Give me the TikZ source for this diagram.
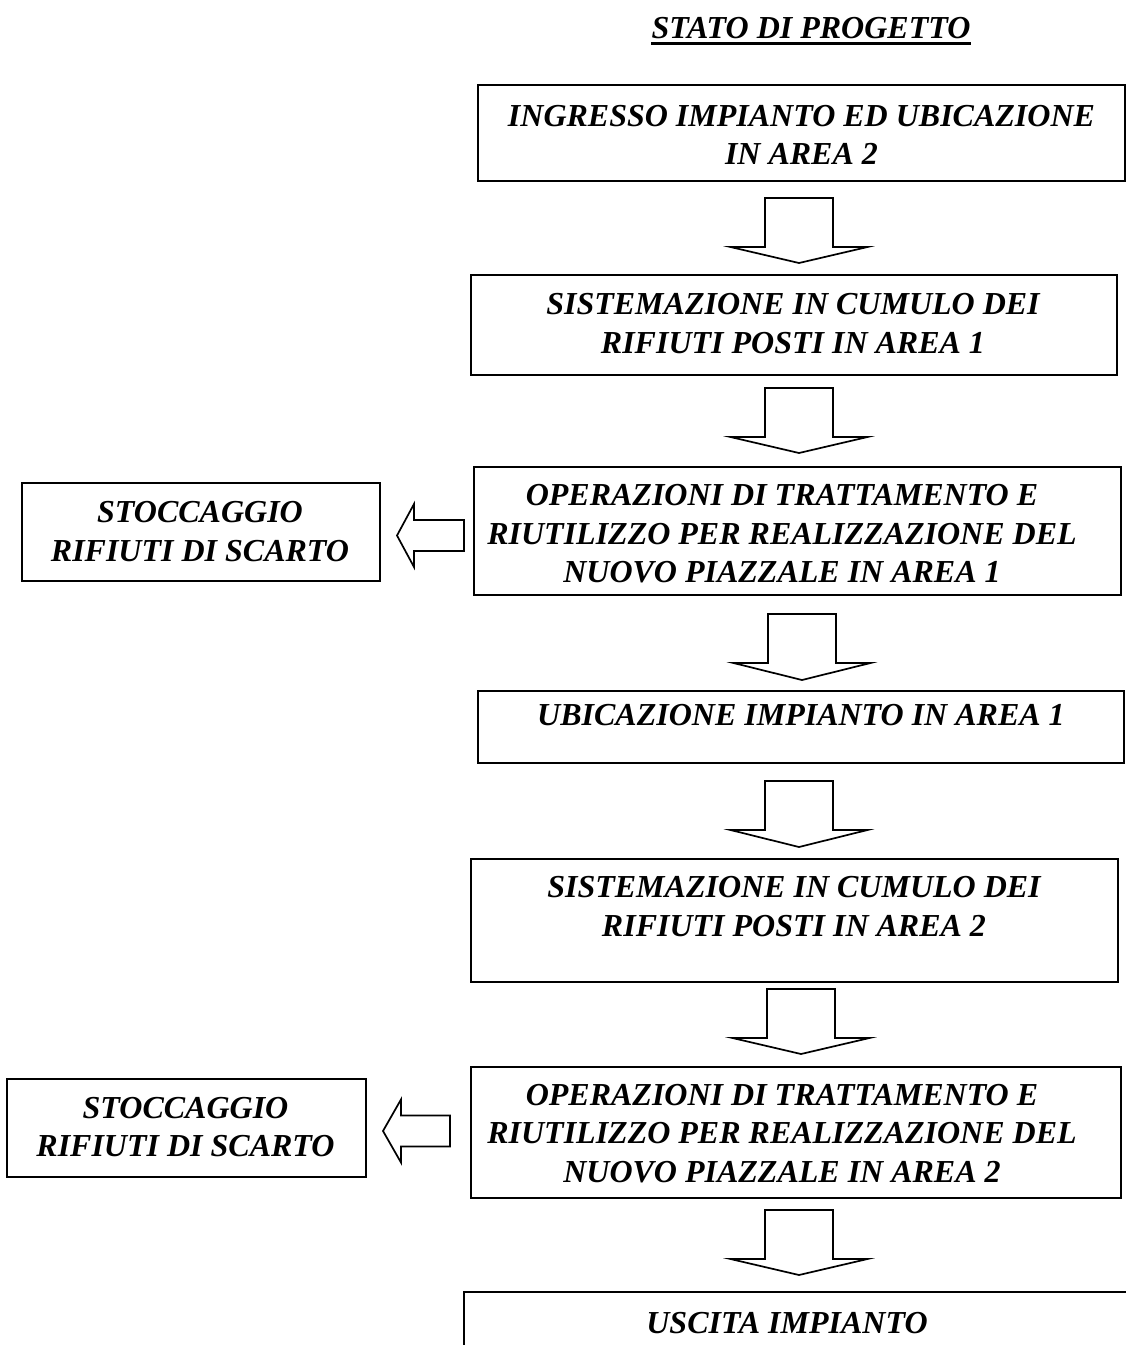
\documentclass[tikz,border=0pt]{standalone}
\usepackage{fontspec}
\setmainfont{Liberation Serif}
\newcommand\dnblock[4]{%
  \draw[blk] (#1-34,#2) -- (#1+34,#2) -- (#1+34,#3) -- (#1+68.5,#3) -- (#1,#4) -- (#1-68.5,#3) -- (#1-34,#3) -- cycle;}
\newcommand\lfblock[4]{%
  \draw[blk] (#1,#2) -- (#3,#2-31.5) -- (#3,#2-15.5) -- (#4,#2-15.5) -- (#4,#2+15.5) -- (#3,#2+15.5) -- (#3,#2+31.5) -- cycle;}
\begin{document}
\begin{tikzpicture}[x=1pt,y=-1pt,
  box/.style={draw, rectangle, inner sep=0pt, outer sep=0pt, line width=1.7pt},
  blk/.style={line width=1.7pt, line join=miter},
  txt/.style={align=center, inner sep=0pt, font=\fontsize{32}{38.5}\selectfont\bfseries\itshape},
  ttl/.style={inner sep=0pt, font=\fontsize{32}{38}\selectfont\bfseries\itshape}]
\useasboundingbox (0,0) rectangle (1126,1345);
\clip (0,0) rectangle (1126,1345);

% title
\node[ttl] (title) at (811,28) {STATO DI PROGETTO};
\coordinate (ul) at (0,43.5);
\draw[line width=2.2pt] (title.west |- ul) -- (title.east |- ul);

% boxes
\node[box, minimum width=647pt, minimum height=96pt] (b1) at (801.5,133) {};
\node[box, minimum width=646pt, minimum height=100pt] (b2) at (794,325) {};
\node[box, minimum width=647pt, minimum height=128pt] (b3) at (797.5,531) {};
\node[box, minimum width=358pt, minimum height=98pt] (l1) at (201,532) {};
\node[box, minimum width=646pt, minimum height=72pt] (b4) at (801,727) {};
\node[box, minimum width=647pt, minimum height=123pt] (b5) at (794.5,920.5) {};
\node[box, minimum width=650pt, minimum height=131pt] (b6) at (796,1132.5) {};
\node[box, minimum width=359pt, minimum height=98pt] (l2) at (186.5,1128) {};
\node[box, minimum width=676pt, minimum height=108pt] (b7) at (802,1346) {};

% texts
\node[txt] (t1) at (801.5,135) {INGRESSO IMPIANTO ED UBICAZIONE\\IN AREA 2};
\node[txt] (t2) at (793,323.5) {SISTEMAZIONE IN CUMULO DEI\\RIFIUTI POSTI IN AREA 1};
\node[txt] (t3) at (782,534) {OPERAZIONI DI TRATTAMENTO E\\RIUTILIZZO PER REALIZZAZIONE DEL\\NUOVO PIAZZALE IN AREA 1};
\node[txt] (tl1) at (200,531.5) {STOCCAGGIO\\RIFIUTI DI SCARTO};
\node[txt] (t4) at (801,715) {UBICAZIONE IMPIANTO IN AREA 1};
\node[txt] (t5) at (794,906.5) {SISTEMAZIONE IN CUMULO DEI\\RIFIUTI POSTI IN AREA 2};
\node[txt] (t6) at (782,1133.5) {OPERAZIONI DI TRATTAMENTO E\\RIUTILIZZO PER REALIZZAZIONE DEL\\NUOVO PIAZZALE IN AREA 2};
\node[txt] (tl2) at (185.5,1127) {STOCCAGGIO\\RIFIUTI DI SCARTO};
\node[txt] (t7) at (787,1323) {USCITA IMPIANTO};

% block arrows down
\dnblock{799}{198}{247}{263}
\dnblock{799}{388}{437}{453}
\dnblock{802}{614}{663}{680}
\dnblock{799}{781}{830}{847}
\dnblock{801}{989}{1038}{1054}
\dnblock{799}{1210}{1259}{1275}

% block arrows left
\lfblock{397}{535.5}{414}{464}
\lfblock{383}{1131}{401}{450}
\end{tikzpicture}
\end{document}
